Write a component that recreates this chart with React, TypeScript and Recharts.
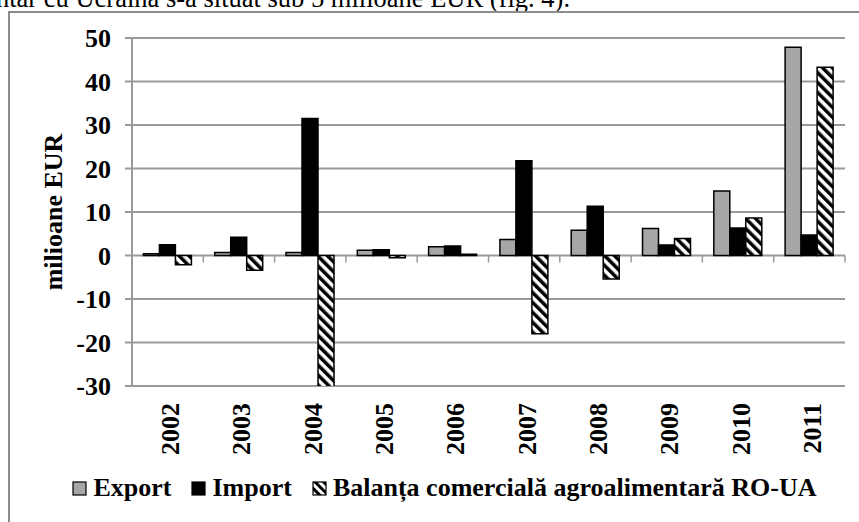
import React from 'react';
import { BarChart, Bar, XAxis, YAxis, CartesianGrid, Legend } from 'recharts';

const years = ['2002', '2003', '2004', '2005', '2006', '2007', '2008', '2009', '2010', '2011'];
const exportValues = [0.4, 0.7, 0.7, 1.2, 2.0, 3.7, 5.8, 6.2, 14.8, 47.9];
const importValues = [2.5, 4.2, 31.5, 1.3, 2.2, 21.8, 11.3, 2.4, 6.3, 4.7];
const balanceValues = [-2.1, -3.4, -30.8, -0.5, 0.3, -18.0, -5.4, 3.9, 8.6, 43.3];
const yTicks = [-30, -20, -10, 0, 10, 20, 30, 40, 50];

const SERIES = [
  { key: 'export', name: 'Export' },
  { key: 'import', name: 'Import' },
  { key: 'balance', name: 'Balanța comercială agroalimentară RO-UA' },
];

const W = 859;
const H = 522;
const MARGIN = { top: 38, right: 14, left: 0, bottom: 0 };
const Y_AXIS_W = 132;
const X_AXIS_H = 90;
const LEGEND_H = 46;
const PLOT_TOP = MARGIN.top;
const PLOT_H = H - MARGIN.top - MARGIN.bottom - X_AXIS_H - LEGEND_H;
const PLOT_W = W - MARGIN.left - MARGIN.right - Y_AXIS_W;
const Y_MIN = -30;
const Y_MAX = 50;
const ZERO_Y = PLOT_TOP + (PLOT_H * Y_MAX) / (Y_MAX - Y_MIN);

const FONT = '"Liberation Serif", "Times New Roman", serif';
const GRID = '#9a9a9a';
const GRAY_FILL = '#a6a6a6';

const data = years.map((year, i) => ({
  year,
  export: exportValues[i],
  import: importValues[i],
  balance: balanceValues[i],
}));

function YearTick(props: any) {
  const { x, y, payload, index } = props;
  const half = payload && payload.offset ? payload.offset : PLOT_W / years.length / 2;
  return (
    <g>
      <line x1={x - half} x2={x - half} y1={ZERO_Y} y2={ZERO_Y + 7} stroke={GRID} strokeWidth={1.5} />
      {index === years.length - 1 && (
        <line x1={x + half} x2={x + half} y1={ZERO_Y} y2={ZERO_Y + 7} stroke={GRID} strokeWidth={1.5} />
      )}
      <text
        transform={`translate(${x + 3},${y + 17}) rotate(-90)`}
        textAnchor="end"
        dominantBaseline="central"
        fontFamily={FONT}
        fontWeight={700}
        fontSize={26}
        fill="#000"
      >
        {payload.value}
      </text>
    </g>
  );
}

function Swatch({ kind }: { kind: string }) {
  const fill = kind === 'export' ? GRAY_FILL : kind === 'import' ? '#000' : 'url(#hatchLegend)';
  return (
    <svg width={15} height={15} style={{ marginRight: 6, flex: 'none' }}>
      <defs>
        <pattern id="hatchLegend" patternUnits="userSpaceOnUse" width={6} height={6} patternTransform="rotate(-45)">
          <rect width={6} height={6} fill="#fff" />
          <rect width={3} height={6} fill="#000" />
        </pattern>
      </defs>
      <rect x={1} y={1} width={13} height={13} fill={fill} stroke="#000" strokeWidth={1.2} />
    </svg>
  );
}

function LegendContent() {
  return (
    <div
      style={{
        display: 'flex',
        justifyContent: 'center',
        alignItems: 'center',
        paddingLeft: 30,
        fontFamily: FONT,
        fontWeight: 700,
        fontSize: 26,
        color: '#000',
      }}
    >
      {SERIES.map((s, i) => (
        <div key={s.key} style={{ display: 'flex', alignItems: 'center', marginLeft: i === 0 ? 0 : 20 }}>
          <Swatch kind={s.key} />
          <span>{s.name}</span>
        </div>
      ))}
    </div>
  );
}

export default function App() {
  return (
    <div style={{ position: 'absolute', left: 0, top: 0, width: W, height: H, overflow: 'hidden', background: '#fff' }}>
      <div
        style={{
          position: 'absolute',
          left: -4,
          top: -17,
          whiteSpace: 'nowrap',
          fontFamily: FONT,
          fontSize: 26.5,
          color: '#000',
        }}
      >
        ntar cu Ucraina s-a situat sub 5 milioane EUR (fig. 4).
      </div>
      <div
        style={{
          position: 'absolute',
          left: 8,
          top: 11,
          width: 1000,
          height: 1000,
          border: '2px solid #8c8c8c',
          boxSizing: 'border-box',
        }}
      />
      <div style={{ position: 'absolute', left: 0, top: 0 }}>
        <BarChart
          width={W}
          height={H}
          data={data}
          margin={MARGIN}
          barCategoryGap="16%"
          barGap={0}
          style={{ fontFamily: FONT }}
        >
          <defs>
            <pattern id="hatch" patternUnits="userSpaceOnUse" width={7} height={7} patternTransform="rotate(-45)">
              <rect width={7} height={7} fill="#fff" />
              <rect width={3.5} height={7} fill="#000" />
            </pattern>
          </defs>
          <CartesianGrid vertical={false} stroke={GRID} strokeWidth={2} />
          <XAxis
            dataKey="year"
            height={X_AXIS_H}
            axisLine={false}
            tickLine={false}
            tickSize={0}
            tickMargin={0}
            interval={0}
            tick={<YearTick />}
          />
          <YAxis
            width={Y_AXIS_W}
            domain={[Y_MIN, Y_MAX]}
            ticks={yTicks}
            allowDataOverflow
            axisLine={{ stroke: GRID, strokeWidth: 2 }}
            tickLine={{ stroke: GRID, strokeWidth: 2 }}
            tickSize={7}
            tickMargin={14}
            tick={{ fill: '#000', fontSize: 26, fontWeight: 700, fontFamily: FONT }}
            label={{
              content: (p: any) => {
                const vb = p.viewBox || { x: 0, y: PLOT_TOP, height: PLOT_H };
                const cx = vb.x + 53;
                const cy = vb.y + vb.height / 2;
                return (
                  <text
                    transform={`translate(${cx},${cy}) rotate(-90)`}
                    textAnchor="middle"
                    dominantBaseline="central"
                    fontFamily={FONT}
                    fontWeight={700}
                    fontSize={26}
                    fill="#000"
                  >
                    milioane EUR
                  </text>
                );
              },
            }}
          />
          <Legend
            verticalAlign="bottom"
            content={<LegendContent />}
            wrapperStyle={{ position: 'absolute', left: 0, top: 473, width: W, height: LEGEND_H }}
          />
          <Bar dataKey="export" name={SERIES[0].name} fill={GRAY_FILL} stroke="#000" strokeWidth={1.5} isAnimationActive={false} />
          <Bar dataKey="import" name={SERIES[1].name} fill="#000" stroke="#000" strokeWidth={1.5} isAnimationActive={false} />
          <Bar dataKey="balance" name={SERIES[2].name} fill="url(#hatch)" stroke="#000" strokeWidth={1.5} isAnimationActive={false} />
        </BarChart>
      </div>
    </div>
  );
}
